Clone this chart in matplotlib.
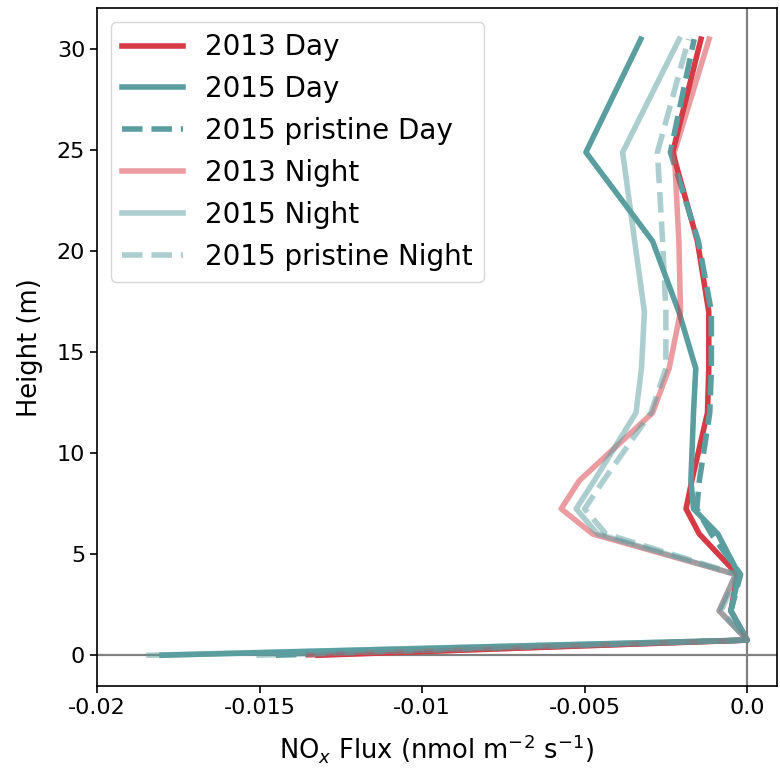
import matplotlib
matplotlib.use("Agg")
import matplotlib.pyplot as plt

# heights of the profile levels (m)
height = [0.0, 0.75, 2.2, 4.0, 6.0, 7.25, 8.65, 12.0, 14.2, 17.0, 20.5, 24.9, 30.5]

# NOx flux profiles (nmol m-2 s-1)
day_2013 = [-0.0132, 0.0, -0.0005, -0.0003, -0.00147, -0.00188, -0.0017, -0.00122,
            -0.00118, -0.00118, -0.00153, -0.00229, -0.00142]
day_2015 = [-0.0180, 0.0, -0.0005, -0.00025, -0.0009, -0.00165, -0.00173, -0.00165,
            -0.00158, -0.0021, -0.00291, -0.00496, -0.00327]
day_2015_pristine = [-0.0145, 0.0, -0.0005, -0.0002, -0.0011, -0.00155, -0.00147, -0.00115,
                     -0.0011, -0.0011, -0.0015, -0.00236, -0.00163]
night_2013 = [-0.0135, 0.0, -0.00086, -0.00035, -0.00475, -0.00572, -0.00516, -0.00291,
              -0.0024, -0.00205, -0.0021, -0.00224, -0.00117]
night_2015 = [-0.0184, 0.0, -0.00086, -0.00035, -0.0046, -0.00526, -0.0047, -0.00342,
              -0.00325, -0.00316, -0.00346, -0.00383, -0.00209]
night_2015_pristine = [-0.0151, 0.0, -0.0008, -0.0003, -0.00434, -0.005, -0.00442, -0.00296,
                       -0.0025, -0.0025, -0.0026, -0.00276, -0.0018]

xticks = [-0.02, -0.015, -0.01, -0.005, 0.0]
xticklabels = ["-0.02", "-0.015", "-0.01", "-0.005", "0.0"]

red = "#d63a44"
teal = "#5b9ea0"

fig = plt.figure(figsize=(7.8, 7.71), dpi=100)
ax = fig.add_axes([0.1244, 0.1102, 0.8718, 0.879])

ax.axhline(0, color="gray", lw=1.6, zorder=1)
ax.axvline(0, color="gray", lw=1.6, zorder=1)

ax.plot(day_2013, height, color=red, lw=4, label="2013 Day")
ax.plot(day_2015, height, color=teal, lw=4, label="2015 Day")
ax.plot(day_2015_pristine, height, color=teal, lw=4, ls="--", label="2015 pristine Day")
ax.plot(night_2013, height, color=red, lw=4, alpha=0.5, label="2013 Night")
ax.plot(night_2015, height, color=teal, lw=4, alpha=0.5, label="2015 Night")
ax.plot(night_2015_pristine, height, color=teal, lw=4, ls="--", alpha=0.5,
        label="2015 pristine Night")

ax.set_xlim(-0.02, 0.00092)
ax.set_ylim(-1.525, 32.025)
ax.set_xticks(xticks)
ax.set_xticklabels(xticklabels)
ax.set_yticks([0, 5, 10, 15, 20, 25, 30])
ax.tick_params(labelsize=16, length=5, width=1.2)
for s in ax.spines.values():
    s.set_linewidth(1.2)

ax.set_xlabel(r"NO$_x$ Flux (nmol m$^{-2}$ s$^{-1}$)", fontsize=18.5, labelpad=10)
ax.set_ylabel("Height (m)", fontsize=18.5, labelpad=10)
ax.legend(loc="upper left", fontsize=20, handlelength=2.2, labelspacing=0.5)

fig.savefig("out.png", dpi=100)
